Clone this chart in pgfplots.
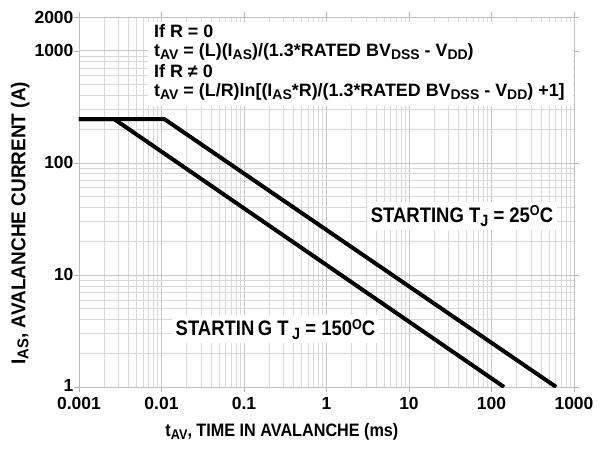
\documentclass[border=0pt]{standalone}
\usepackage{pgfplots}
\pgfplotsset{compat=1.18}
\usepackage{graphicx}
\usepackage{fontspec}
\setmainfont{Liberation Sans}
\newfontfamily\condfont{Liberation Sans}[FakeStretch=0.88]
\newfontfamily\semicond{Liberation Sans}[FakeStretch=0.90]
\newfontfamily\ylfont{Liberation Sans}[FakeStretch=0.95]
\newcommand\sub[1]{\raisebox{-0.3ex}{\scalebox{0.78}{#1}}}
\newcommand\supO{\raisebox{0.62ex}{\scalebox{0.68}{O}}}
\begin{document}
\begin{tikzpicture}
\begin{axis}[
  scale only axis, width=495pt, height=370pt,
  xmode=log, ymode=log,
  xmin=0.001, xmax=1000, ymin=1, ymax=2000,
  xtick={0.001,0.01,0.1,1,10,100,1000},
  xticklabels={0.001,0.01,0.1,1,10,100,1000},
  ytick={1,10,100,1000,2000},
  yticklabels={\raisebox{4pt}{1},10,100,1000,2000},
  minor xtick={0.002,0.003,0.004,0.005,0.006,0.007,0.008,0.009,0.02,0.03,0.04,0.05,0.06,0.07,0.08,0.09,0.2,0.3,0.4,0.5,0.6,0.7,0.8,0.9,2,3,4,5,6,7,8,9,20,30,40,50,60,70,80,90,200,300,400,500,600,700,800,900},
  minor ytick={2,3,4,5,6,7,8,9,20,30,40,50,60,70,80,90,200,300,400,500,600,700,800,900},
  grid=both,
  major grid style={gray!45, line width=0.6pt},
  minor grid style={gray!30, line width=0.5pt},
  axis line style={gray!50},
  tick style={gray!60},
  major tick length=5pt, minor tick length=0pt,
  tick align=outside,
  /pgf/number format/assume math mode=true,
  tick label style={font=\fontsize{17.5}{19}\selectfont\bfseries},
  xticklabel style={yshift=-2pt},
  yticklabel style={xshift=3pt},
  xlabel={t\sub{AV}, TIME IN AVALANCHE (ms)},
  ylabel={I\sub{AS}, AVALANCHE CURRENT (A)},
  xlabel style={font=\fontsize{18}{20}\selectfont\semicond\bfseries, at={(axis description cs:0.41,-0.1216)}, anchor=center},
  ylabel style={font=\fontsize{20}{21}\selectfont\ylfont\bfseries, at={(axis description cs:-0.119,0.443)}, anchor=center, rotate=0},
]
% STARTING TJ = 25C
\addplot[black, line width=4pt, line join=round] coordinates {(0.001,246) (0.0108,246) (608,1)};
% STARTING TJ = 150C
\addplot[black, line width=4pt, line join=round] coordinates {(0.001,246) (0.00266,246) (142,1)};
\fill[white] (rel axis cs:0.1394,0.7595) rectangle (rel axis cs:0.998,0.9865);
\begin{scope}[every node/.style={anchor=base west, inner sep=0pt, font=\fontsize{17.9}{20}\selectfont\bfseries}]
\node at (rel axis cs:0.1515,0.9459) {If R = 0};
\node at (rel axis cs:0.1515,0.8919) {t\sub{AV} = (L)(I\sub{AS})/(1.3*RATED BV\sub{DSS} - V\sub{DD})};
\node at (rel axis cs:0.1515,0.8378) {If R ≠ 0};
\node at (rel axis cs:0.1515,0.7838) {t\sub{AV} = (L/R)ln[(I\sub{AS}*R)/(1.3*RATED BV\sub{DSS} - V\sub{DD}) +1]};
\end{scope}
\node[fill=white, anchor=base, inner sep=4pt, font=\fontsize{21}{22}\selectfont\condfont\bfseries]
  at (rel axis cs:0.7737,0.444) {STARTING T\sub{J} = 25\supO C};
\node[fill=white, anchor=base, inner sep=4pt, font=\fontsize{21}{22}\selectfont\condfont\bfseries]
  at (rel axis cs:0.397,0.138) {STARTIN\,G T\,\sub{J} = 150\supO C};
\end{axis}
\path (-79pt,-61pt) rectangle (526pt,387pt);
\end{tikzpicture}
\end{document}
